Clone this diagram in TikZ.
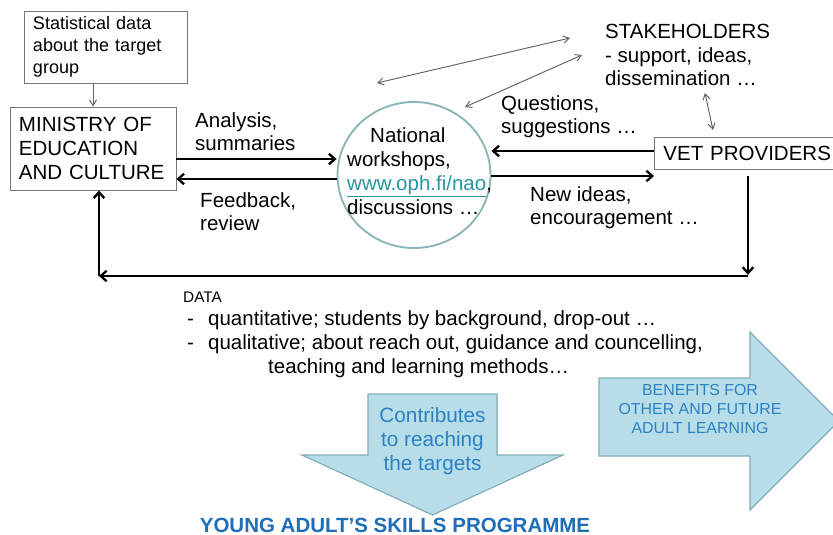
\documentclass[tikz,border=0pt]{standalone}
\usepackage{fontspec}
\setmainfont{Liberation Sans}
\usepackage{xcolor}
\usepackage{tikz}
\usetikzlibrary{positioning, arrows.meta, shapes.geometric, calc}

\definecolor{boxline}{RGB}{118,118,118}
\definecolor{thinline}{RGB}{96,96,96}
\definecolor{ringline}{RGB}{138,182,184}
\definecolor{linkteal}{RGB}{38,150,162}
\definecolor{blockfill}{RGB}{183,222,232}
\definecolor{blockline}{RGB}{128,174,184}
\definecolor{blocktext}{RGB}{44,128,196}
\definecolor{progblue}{RGB}{30,110,184}

\begin{document}
\begin{tikzpicture}[x=0.03cm, y=-0.03cm,
  box/.style={draw=boxline, line width=0.8pt, align=left, inner sep=0pt},
  note/.style={align=left, inner sep=0pt, anchor=west, font=\fontsize{17.5}{19.6}\selectfont},
  dataline/.style={anchor=base west, inner sep=0pt, font=\fontsize{17.5}{20}\selectfont},
  flow/.style={->, line width=2pt, >={Straight Barb[length=5pt, width=9pt]}},
  feed/.style={->, thinline, line width=0.8pt, >={Straight Barb[length=5pt, width=6pt]}},
  twoway/.style={feed, <->},
  block/.style={fill=blockfill, draw=blockline, line width=1pt},
  blocktxt/.style={align=center, inner sep=0pt, text=blocktext}
]
  \fill[white] (0,0) rectangle (833,535);
  \useasboundingbox (0,0) rectangle (833,535);

  % boxes and the workshop ring
  \node[box, minimum width=4.89cm, minimum height=2.16cm, text width=4.35cm,
        font=\fontsize{15.4}{18.8}\selectfont] (stat) at (105.5,47) {Statistical data\\about the target\\group};
  \node[box, minimum width=4.98cm, minimum height=2.49cm, text width=4.44cm,
        font=\fontsize{17.5}{20.5}\selectfont] (ministry) at (93,148.5) {MINISTRY OF\\EDUCATION\\AND CULTURE};
  \node[box, anchor=west, minimum height=0.96cm, text width=5.1cm, inner xsep=0.27cm,
        font=\fontsize{17.5}{20.5}\selectfont] (vet) at (654,153) {VET PROVIDERS};
  \node[ellipse, draw=ringline, line width=1.6pt, minimum width=4.59cm, minimum height=4.38cm] (nao) at (414,175) {};
  \node[note, font=\fontsize{17.5}{20.5}\selectfont] (naotext) at (347,171)
    {\hspace*{19.6pt}National\\workshops,\\\textcolor{linkteal}{\underline{www.oph.fi/nao}},\\discussions …};
  \node[note, font=\fontsize{17.5}{20}\selectfont] (stake) at (605,55) {STAKEHOLDERS\\- support, ideas,\\dissemination …};

  % flow labels
  \node[note] (analysis) at (195,131.5) {Analysis,\\summaries};
  \node[note] (feedback) at (200,212) {Feedback,\\review};
  \node[note] (questions) at (501,117) {Questions,\\suggestions …};
  \node[note] (ideas) at (530,207.5) {New ideas,\\encouragement …};

  % main flows
  \draw[feed] (stat.south -| ministry.north) -- (ministry.north);
  \draw[flow] (ministry.east |- 0,159) -- (nao.west |- 0,159);
  \draw[flow] (nao.west |- 0,179) -- (ministry.east |- 0,179);
  \draw[flow] (vet.west |- 0,151) -- (nao.east |- 0,151);
  \draw[flow] (nao.east |- 0,176) -- (vet.west |- 0,176);

  % data loop back to the ministry
  \coordinate (loopR) at (748,276);
  \coordinate (loopL) at (99,276);
  \draw[flow, shorten <=0.21cm] (vet.south -| loopR) -- ([yshift=1pt]loopR);
  \draw[flow] (loopR) -- (loopL);
  \draw[flow] (loopL) -- (loopL |- ministry.south);

  % stakeholder links
  \coordinate (sa1) at (377,83);
  \coordinate (sa2) at (570,38);
  \coordinate (sb1) at (465,107);
  \coordinate (sb2) at (582,55);
  \coordinate (sc1) at (705,93);
  \coordinate (sc2) at (713,130);
  \draw[twoway] (sa1) -- (sa2);
  \draw[twoway] (sb1) -- (sb2);
  \draw[twoway] (sc1) -- (sc2);

  % data
  \node[dataline, font=\fontsize{13.1}{15}\selectfont] (datahead) at (183,302) {DATA};
  \node[dataline] (dataq) at (187,325) {\makebox[17.9pt][l]{-}quantitative; students by background, drop-out …};
  \node[dataline] (dataql) at (187,349) {\makebox[17.9pt][l]{-}qualitative; about reach out, guidance and councelling,};
  \node[dataline] (datatm) at (268,373) {teaching and learning methods…};

  % block arrows
  \draw[block] (368,394) -- (497,394) -- (497,455) -- (563,455) -- (432.5,515) -- (302,455) -- (368,455) -- cycle;
  \node[blocktxt, font=\fontsize{17.7}{20.5}\selectfont] (contrib) at (432.5,441) {Contributes\\to reaching\\the targets};
  \draw[block] (599,378) -- (750,378) -- (750,332) -- (839,421) -- (750,510) -- (750,456) -- (599,456) -- cycle;
  \node[blocktxt, font=\fontsize{13.6}{16.2}\selectfont] (benefit) at (700,409) {BENEFITS FOR\\OTHER AND FUTURE\\ADULT LEARNING};
  \node[font=\bfseries\fontsize{17.5}{20}\selectfont, text=progblue, inner sep=0pt] (prog) at (395,525) {YOUNG ADULT'S SKILLS PROGRAMME};
\end{tikzpicture}
\end{document}
